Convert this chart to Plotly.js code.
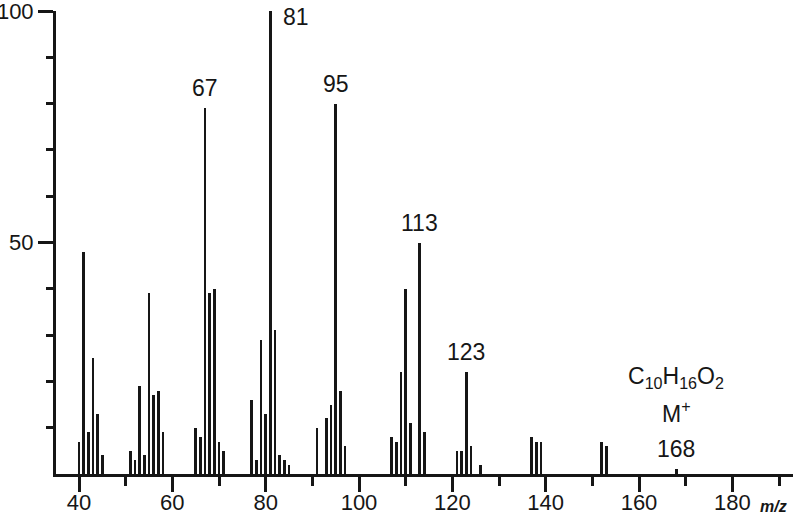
<!DOCTYPE html>
<html>
<head>
<meta charset="utf-8">
<script src="https://cdn.plot.ly/plotly-3.0.1.min.js"></script>
<style>
  body { margin: 0; background: #fff; }
  #chart { width: 793px; height: 515px; }
</style>
</head>
<body>
<div id="chart"></div>
<script>
// EI mass spectrum, C10H16O2 (relative intensity, %)
const mz = [40, 41, 42, 43, 44, 45,
            51, 52, 53, 54, 55, 56, 57, 58,
            65, 66, 67, 68, 69, 70, 71,
            77, 78, 79, 80, 81, 82, 83, 84, 85,
            91, 93, 94, 95, 96, 97,
            107, 108, 109, 110, 111, 113, 114,
            121, 122, 123, 124, 126,
            137, 138, 139, 152, 153, 168];
const intensity = [7, 48, 9, 25, 13, 4,
                   5, 3, 19, 4, 39, 17, 18, 9,
                   10, 8, 79, 39, 40, 7, 5,
                   16, 3, 29, 13, 100, 31, 4, 3, 2,
                   10, 12, 15, 80, 18, 6,
                   8, 7, 22, 40, 11, 50, 9,
                   5, 5, 22, 6, 2,
                   8, 7, 7, 7, 6, 1];

const labelledPeaks = [67, 81, 95, 113, 123, 168];
const xMajorTicks = [40, 60, 80, 100, 120, 140, 160, 180];
const xMinorTicks = [50, 70, 90, 110, 130, 150, 170, 190];
const yMajorTicks = [50, 100];
const yMinorTicks = [10, 20, 30, 40, 60, 70, 80, 90];

const ink = '#161616';
const font = 'Liberation Sans, Arial, sans-serif';

const trace = {
    type: 'bar',
    x: mz,
    y: intensity,
    width: 0.62,
    marker: { color: ink, line: { width: 0 } },
    hoverinfo: 'x+y'
};

// peak labels sit just above the bar tops, 81 is written beside its bar
const annotations = labelledPeaks.map(m => {
    const h = intensity[mz.indexOf(m)];
    if (m === 81) {
        return { x: m, y: h, text: String(m), showarrow: false, xanchor: 'left',
                 yanchor: 'top', xshift: 11, yshift: 9 };
    }
    return { x: m, y: h, text: String(m), showarrow: false, yanchor: 'middle', yshift: 20 };
});

annotations.push(
    { x: 168, y: 1, text: 'M<sup>+</sup>', showarrow: false, yanchor: 'middle', yshift: 57 },
    { x: 168, y: 1, text: 'C<sub>10</sub>H<sub>16</sub>O<sub>2</sub>', showarrow: false,
      yanchor: 'middle', yshift: 92 },
    { x: 188.9, xref: 'x', y: -0.07, yref: 'paper', yanchor: 'middle', text: '<i><b>m/z</b></i>',
      showarrow: false, font: { size: 16, family: font, color: ink } }
);

const layout = {
    width: 793,
    height: 515,
    margin: { l: 56, r: 0, t: 11, b: 41 },
    paper_bgcolor: '#ffffff',
    plot_bgcolor: '#ffffff',
    showlegend: false,
    font: { family: font, size: 23, color: ink },
    bargap: 0,
    xaxis: {
        range: [35.07, 193],
        showgrid: false,
        zeroline: false,
        showline: true,
        linecolor: ink,
        linewidth: 3,
        ticks: 'outside',
        tickmode: 'array',
        tickvals: xMajorTicks,
        ticklen: 15,
        tickwidth: 3,
        tickcolor: ink,
        tickfont: { size: 22 },
        ticklabelstandoff: -8,
        ticklabeloverflow: 'allow',
        minor: { tickmode: 'array', tickvals: xMinorTicks, ticks: 'outside',
                 ticklen: 9, tickwidth: 3, tickcolor: ink, showgrid: false }
    },
    yaxis: {
        range: [0, 100],
        showgrid: false,
        zeroline: false,
        showline: true,
        linecolor: ink,
        linewidth: 3,
        ticks: 'outside',
        tickmode: 'array',
        tickvals: yMajorTicks,
        ticklen: 15,
        tickwidth: 3,
        tickcolor: ink,
        tickfont: { size: 22 },
        ticklabeloverflow: 'allow',
        minor: { tickmode: 'array', tickvals: yMinorTicks, ticks: 'outside',
                 ticklen: 7, tickwidth: 3, tickcolor: ink, showgrid: false }
    },
    annotations: annotations
};

Plotly.newPlot('chart', [trace], layout, { displayModeBar: false, staticPlot: true });
</script>
</body>
</html>
